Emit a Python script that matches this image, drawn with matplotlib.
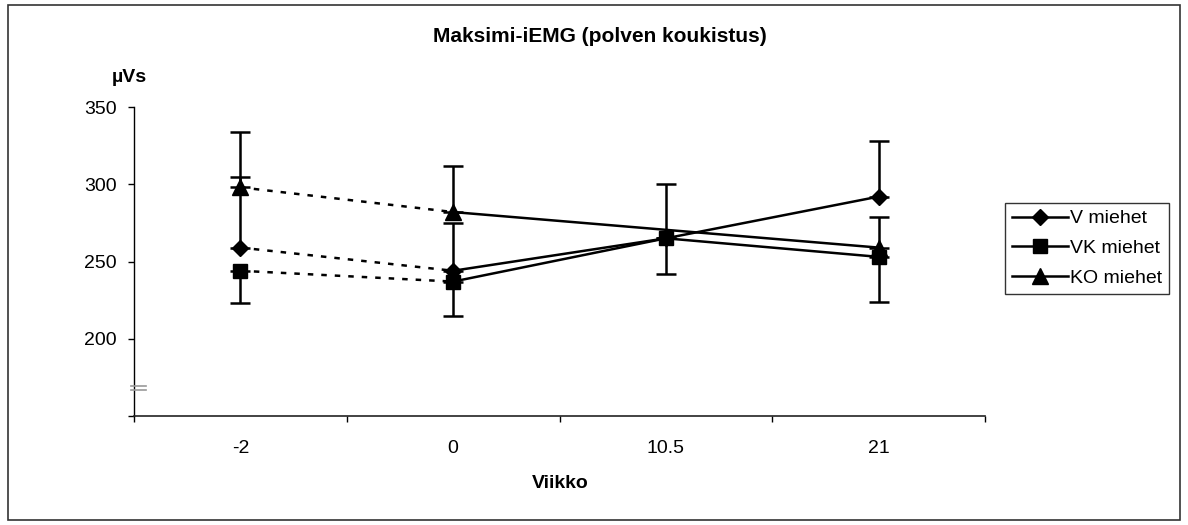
import numpy as np
import matplotlib
matplotlib.use("Agg")
import matplotlib.pyplot as plt
from matplotlib.lines import Line2D
from matplotlib.patches import Rectangle

plt.rcParams['font.family'] = ['Liberation Sans', 'DejaVu Sans']

# data
weeks = ["-2", "0", "10.5", "21"]
series_names = ["V miehet", "VK miehet", "KO miehet"]
v_vals = [259, 244, 265, 292]
vk_vals = [244, 237, 265, 253]
ko_vals = [298, 282, np.nan, 259]
# one-sided error bars (Excel style): plus for V and KO, minus for VK
v_err_plus = [46, 31, 35, 36]
vk_err_minus = [21, 22, 23, 29]
ko_err_plus = [36, 30, np.nan, 20]

W, H = 1188, 525
fig = plt.figure(figsize=(W / 100, H / 100), dpi=100)
fig.patch.set_facecolor("white")

# outer chart border
fig.patches.append(Rectangle((8 / W, 1 - 520 / H), (1180 - 8) / W, (520 - 5) / H,
                             transform=fig.transFigure, fill=False,
                             edgecolor="#333333", linewidth=1.2))

ax = fig.add_axes([134 / W, 1 - 416 / H, (985 - 134) / W, (416 - 107) / H])
x = np.arange(len(weeks))

styles = [
    (v_vals, v_err_plus, "plus", "D", 8.5),
    (vk_vals, vk_err_minus, "minus", "s", 10.5),
    (ko_vals, ko_err_plus, "plus", "^", 11),
]

LW = 1.8
for vals, err, side, marker, ms in styles:
    vals = np.asarray(vals, dtype=float)
    err = np.asarray(err, dtype=float)
    ok = ~np.isnan(vals)
    # error bars
    zeros = np.zeros_like(err)
    yerr = [zeros[ok], err[ok]] if side == "plus" else [err[ok], zeros[ok]]
    ax.errorbar(x[ok], vals[ok], yerr=yerr, fmt="none", ecolor="black",
                elinewidth=LW, capsize=7.5, capthick=LW, zorder=2)
    # dashed segment before baseline
    ax.plot(x[:2], vals[:2], color="black", lw=LW, dashes=(2.2, 3.2), zorder=3)
    # solid line from week 0 on, gaps connected
    xs = x[1:][ok[1:]]
    ax.plot(xs, vals[1:][ok[1:]], color="black", lw=LW, zorder=3)
    ax.plot(x[ok], vals[ok], linestyle="none", marker=marker, ms=ms,
            color="black", zorder=4)

ax.set_xlim(-0.5, len(weeks) - 0.5)
ax.set_ylim(150, 350)
ax.set_yticks([150, 200, 250, 300, 350])
ax.set_yticklabels(["", "200", "250", "300", "350"])
ax.set_xticks(np.arange(len(weeks) + 1) - 0.5)
ax.set_xticklabels([])
ax.set_xticks(x, minor=True)
ax.set_xticklabels(weeks, minor=True)
ax.tick_params(axis="x", which="major", direction="out", length=4.3, width=1)
ax.tick_params(axis="x", which="minor", length=0, pad=17, labelsize=14)
ax.tick_params(axis="y", direction="out", length=4.3, width=1, pad=8, labelsize=14)
for s in ["top", "right"]:
    ax.spines[s].set_visible(False)
ax.spines["left"].set_linewidth(1)
ax.spines["bottom"].set_linewidth(1.2)
ax.spines["bottom"].set_color("#222222")

# axis break mark
for yb in [167, 169.2]:
    ax.plot([-0.003, 0.014], [yb, yb], transform=ax.get_yaxis_transform(),
            color="#999999", lw=1.2, clip_on=False, zorder=5)

fig.text(600 / W, 1 - 36 / H, "Maksimi-iEMG (polven koukistus)", ha="center",
         va="center", fontsize=15, fontweight="bold")
fig.text(129.5 / W, 1 - 77 / H, "µVs", ha="center", va="center",
         fontsize=14, fontweight="bold")
fig.text(560 / W, 1 - 483 / H, "Viikko", ha="center", va="center",
         fontsize=14, fontweight="bold")

handles = [Line2D([0], [0], color="black", lw=LW, marker=m, ms=ms)
           for (_, _, _, m, ms) in styles]
leg = fig.legend(handles, series_names, loc="upper left",
                 bbox_to_anchor=(1005 / W, 1 - 203 / H),
                 bbox_transform=fig.transFigure, borderaxespad=0,
                 fontsize=14, frameon=True, fancybox=False, handlelength=2.9,
                 handletextpad=0.1, labelspacing=0.62, borderpad=0.35)
leg.get_frame().set_edgecolor("black")
leg.get_frame().set_linewidth(1)

fig.savefig("out.png", dpi=100)
